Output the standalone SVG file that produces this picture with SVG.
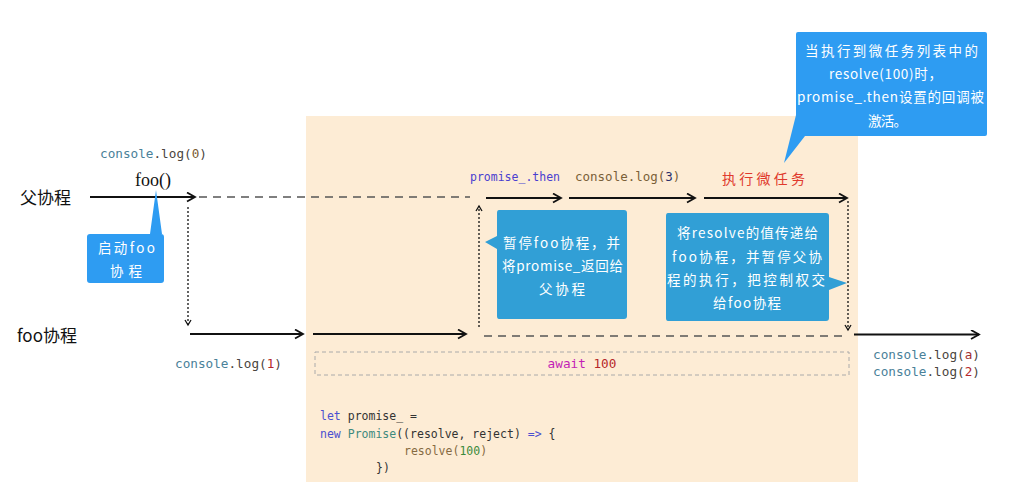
<svg xmlns="http://www.w3.org/2000/svg" width="1015" height="496" viewBox="0 0 1015 496">
<style>
.cn{font-family:"Noto Sans CJK SC","Noto Sans",sans-serif}
.bt{font-family:"Noto Sans CJK SC","Noto Sans",sans-serif;font-size:13.5px;fill:#fff;text-anchor:middle}
.mono{font-family:"DejaVu Sans Mono","Liberation Mono",monospace}
.lbl{font-size:12.7px}
.teal{fill:#4a8199}
.dk{fill:#4a4540}
.solid{stroke:#111;stroke-width:1.8;fill:none;marker-end:url(#ah)}
.dash{stroke:#555;stroke-width:1.5;fill:none;stroke-dasharray:8 6}
.dot{stroke:#111;stroke-width:1.3;fill:none;stroke-dasharray:2 2;marker-end:url(#ahs)}
.b1{fill:#2e9cf2}
.b2{fill:#319fd6}
</style>
<defs>
<marker id="ah" markerWidth="12" markerHeight="12" refX="9" refY="5" orient="auto" markerUnits="userSpaceOnUse">
<path d="M1,0.5 L9,5 L1,9.5" fill="none" stroke="#111" stroke-width="1.8"/>
</marker>
<marker id="ahs" markerWidth="10" markerHeight="10" refX="6" refY="4" orient="auto" markerUnits="userSpaceOnUse">
<path d="M1,1 L6,4 L1,7" fill="none" stroke="#111" stroke-width="1.3"/>
</marker>
</defs>
<rect width="1015" height="496" fill="#fff"/>
<g id="bg-box">
<rect x="306" y="116" width="552" height="366" fill="#fdecd5"/>
</g>
<g id="await-box">
<rect x="315" y="352" width="534" height="23" fill="none" stroke="#aaa" stroke-width="1" stroke-dasharray="4 3"/>
<text x="582" y="368" class="mono" font-size="12.7" text-anchor="middle"><tspan fill="#c21fb6">await</tspan> <tspan fill="#b5272a">100</tspan></text>
</g>
<g id="labels-left">
<text x="20" y="204" class="cn" font-size="17" fill="#111">父协程</text>
<text x="17" y="342" class="cn" font-size="17" fill="#111">foo协程</text>
<text x="135" y="186" font-family="Liberation Serif,serif" font-size="18" fill="#111">foo()</text>
</g>
<g id="log0"><text x="100" y="158" class="mono lbl"><tspan class="teal">console</tspan><tspan class="dk">.log(</tspan><tspan fill="#7a5a30">0</tspan><tspan class="dk">)</tspan></text></g>
<g id="log1"><text x="175" y="368" class="mono lbl"><tspan class="teal">console</tspan><tspan class="dk">.log(</tspan><tspan fill="#b5272a">1</tspan><tspan class="dk">)</tspan></text></g>
<g id="then"><text x="470" y="181" class="mono" font-size="11.5" fill="#4a3fd0">promise_.then</text></g>
<g id="log3"><text x="575" y="181" class="mono" font-size="12.5" fill="#7a6038">console.log(<tspan fill="#2a2f6a">3</tspan>)</text></g>
<g id="microtask"><text x="763.5" y="184" class="cn" font-size="14" fill="#e0392c" text-anchor="middle" textLength="83">执行微任务</text></g>
<g id="logA"><text x="873" y="359" class="mono lbl"><tspan class="teal">console</tspan><tspan class="dk">.log(</tspan><tspan fill="#a33030">a</tspan><tspan class="dk">)</tspan></text>
<text x="873" y="376" class="mono lbl"><tspan class="teal">console</tspan><tspan class="dk">.log(</tspan><tspan fill="#b5272a">2</tspan><tspan class="dk">)</tspan></text></g>
<g id="code" class="mono" font-size="11.5">
<text x="320" y="420"><tspan fill="#4a4fd0">let</tspan><tspan fill="#333"> promise_ =</tspan></text>
<text x="320" y="438"><tspan fill="#4a4fd0">new</tspan> <tspan fill="#3e8a7e">Promise</tspan><tspan fill="#333">((resolve, reject) </tspan><tspan fill="#4a4fd0">=&gt;</tspan><tspan fill="#333"> {</tspan></text>
<text x="404" y="455"><tspan fill="#866a42">resolve(</tspan><tspan fill="#3c8a3c">100</tspan><tspan fill="#866a42">)</tspan></text>
<text x="376" y="472" fill="#333">})</text>
</g>
<g id="connectors">
<line x1="90" y1="197" x2="195" y2="197" class="solid"/>
<line x1="199" y1="197" x2="470" y2="197" class="dash"/>
<line x1="486" y1="198" x2="561" y2="198" class="solid"/>
<line x1="569" y1="198" x2="695" y2="198" class="solid"/>
<line x1="704" y1="198" x2="847" y2="198" class="solid"/>
<line x1="188" y1="207" x2="188" y2="325" class="dot"/>
<line x1="190" y1="334" x2="303" y2="334" class="solid"/>
<line x1="313" y1="334" x2="466" y2="334" class="solid"/>
<line x1="479" y1="327" x2="479" y2="206" class="dot"/>
<line x1="848" y1="201" x2="848" y2="330" class="dot"/>
<line x1="484" y1="336" x2="848" y2="336" class="dash"/>
<line x1="854" y1="334.5" x2="979" y2="334.5" class="solid"/>
</g>
<g id="bubble-start">
<path d="M90,234 H150 L156,190 L162,234 H161 Q164,234 164,237 V280 Q164,283 161,283 H90 Q87,283 87,280 V237 Q87,234 90,234 Z" class="b1"/>
<text x="126.5" y="253" class="bt" textLength="57">启动foo</text>
<text x="126" y="276" class="bt" textLength="32">协程</text>
</g>
<g id="bubble-pause">
<path d="M499,210 H624 Q627,210 627,213 V316 Q627,319 624,319 H499 Q497,319 497,316 V249 L485,242 L497,236 V213 Q497,210 499,210 Z" class="b2"/>
<text x="561.5" y="248" class="bt" textLength="117">暂停foo协程，并</text>
<text x="562.5" y="271" class="bt" textLength="121">将promise_返回给</text>
<text x="562" y="294" class="bt" textLength="46">父协程</text>
</g>
<g id="bubble-resolve">
<path d="M668,213 H826 Q829,213 829,216 V277 L847,283 L829,290 V318 Q829,321 826,321 H668 Q666,321 666,318 V216 Q666,213 668,213 Z" class="b2"/>
<text x="747.5" y="238" class="bt" textLength="141">将resolve的值传递给</text>
<text x="747" y="262" class="bt" textLength="150">foo协程，并暂停父协</text>
<text x="746" y="285" class="bt" textLength="158">程的执行，把控制权交</text>
<text x="747" y="308" class="bt" textLength="68">给foo协程</text>
</g>
<g id="bubble-micro">
<path d="M798,32 H985 Q987,32 987,34 V134 Q987,136 985,136 H805 L784,163 L796,115 V34 Q796,32 798,32 Z" class="b1"/>
<text x="891.5" y="56" class="bt" textLength="173">当执行到微任务列表中的</text>
<text x="885.5" y="79" class="bt" textLength="113">resolve(100)时，</text>
<text x="890.5" y="102" class="bt" textLength="187">promise_.then设置的回调被</text>
<text x="887.5" y="126" class="bt" textLength="39">激活。</text>
</g>
</svg>
